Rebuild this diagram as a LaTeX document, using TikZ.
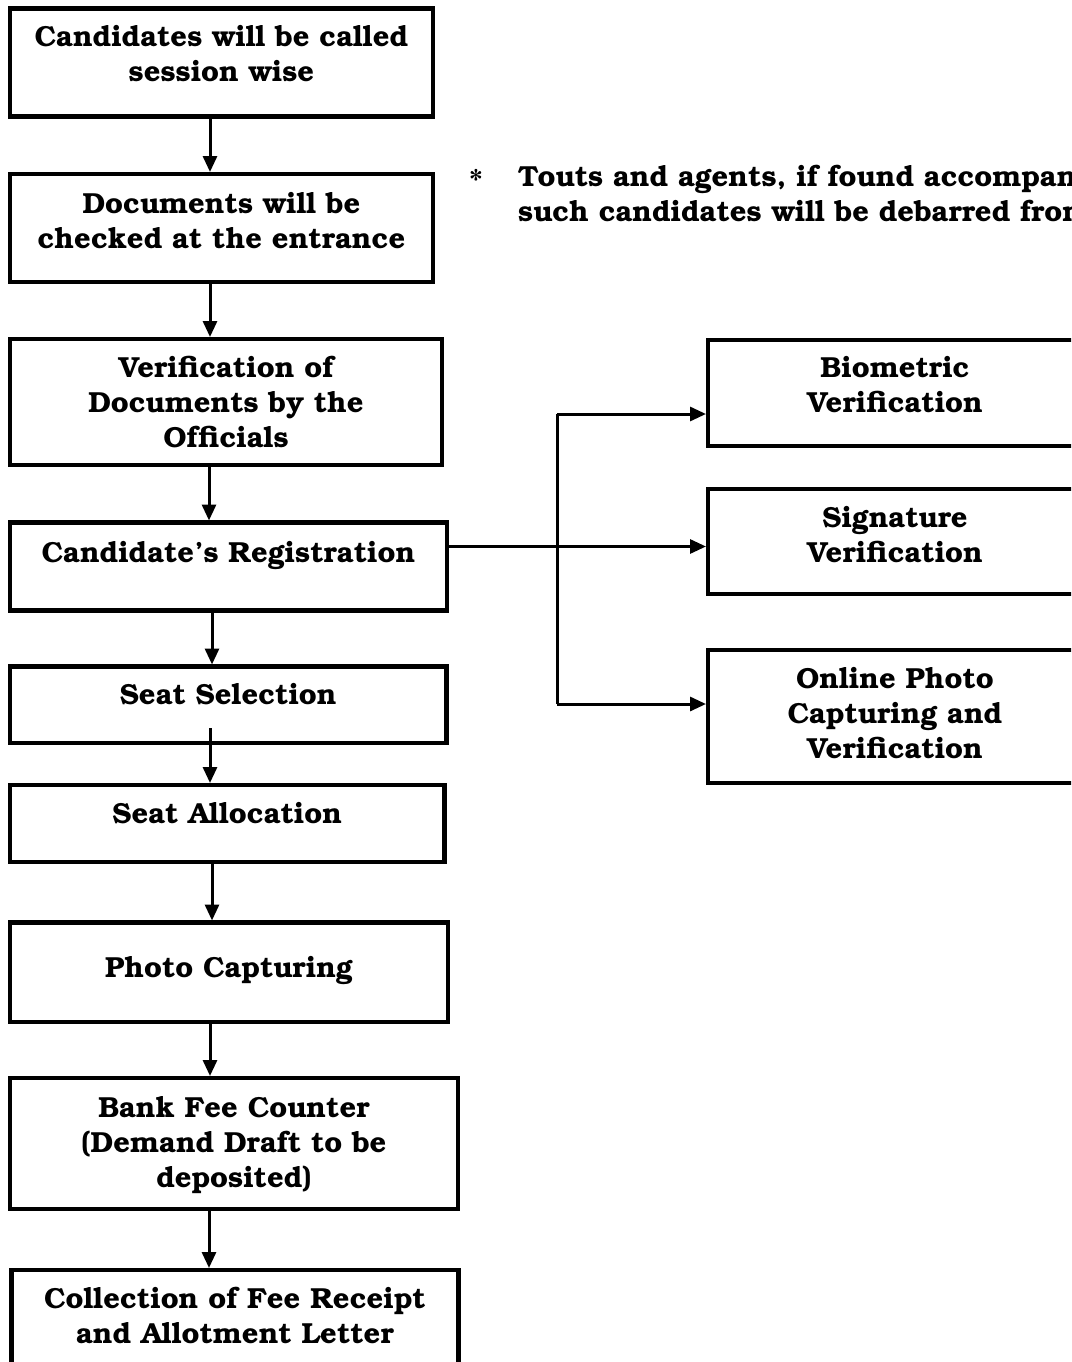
\documentclass[tikz,border=0pt]{standalone}
\usepackage[T1]{fontenc}
\usepackage{bookman}
\usetikzlibrary{arrows.meta}
\begin{document}
\begin{tikzpicture}[x=1pt,y=-1pt,
  box/.style={draw, line width=4.2pt, rectangle, inner sep=0pt, outer sep=0pt, anchor=north west},
  lbl/.style={inner sep=0pt, anchor=base, font=\bfseries\fontsize{29}{35}\selectfont},
  arr/.style={line width=3pt, -{Triangle[width=14pt,length=16pt]}, shorten >=2pt},
  ln/.style={line width=3pt}]
\useasboundingbox (0,0) rectangle (1071,1362);
\clip (0,0) rectangle (1071,1362);
\newcommand{\mybox}[5]{\node[box, minimum width={(#4-#2)*1pt}, minimum height={(#5-#3)*1pt}] (#1) at (#2,#3) {};}
\newcommand{\mytab}[1]{\begin{tabular}[t]{@{}c@{}}#1\end{tabular}}
% left column
\mybox{b1}{10}{8.5}{433}{116.5}
\mybox{b2}{10}{174}{433}{282}
\mybox{b3}{10}{339}{442}{465}
\mybox{b4}{10}{522.5}{447}{610.5}
\mybox{b5}{10}{666.5}{446.5}{743}
\mybox{b6}{10}{785}{444.5}{862}
\mybox{b7}{10}{922.5}{448}{1022}
\mybox{b8}{10}{1078}{458}{1209}
\mybox{b9}{11.5}{1270}{458.5}{1400}
% right column
\mybox{r1}{708}{340}{1082}{446}
\mybox{r2}{708}{489}{1082}{594}
\mybox{r3}{708}{650}{1082}{783}
% texts
\node[lbl] (t1) at (b1.north |- 0,47) {\mytab{Candidates will be called\\session wise}};
\node[lbl] (t2) at (b2.north |- 0,213) {\mytab{Documents will be\\checked at the entrance}};
\node[lbl] (t3) at (b3.north |- 0,377) {\mytab{Verification of\\Documents by the\\Officials}};
\node[lbl] (t4) at (b4.north |- 0,562) {Candidate's Registration};
\node[lbl] (t5) at (b5.north |- 0,704) {Seat Selection};
\node[lbl] (t6) at (b6.north |- 0,823) {Seat Allocation};
\node[lbl] (t7) at (b7.north |- 0,977) {Photo Capturing};
\node[lbl] (t8) at (b8.north |- 0,1117) {\mytab{Bank Fee Counter\\(Demand Draft to be\\deposited)}};
\node[lbl] (t9) at (b9.north |- 0,1308) {\mytab{Collection of Fee Receipt\\and Allotment Letter}};
\node[lbl] (u1) at (r1.north |- 0,377) {\mytab{Biometric\\Verification}};
\node[lbl] (u2) at (r2.north |- 0,527) {\mytab{Signature\\Verification}};
\node[lbl] (u3) at (r3.north |- 0,688) {\mytab{Online Photo\\Capturing and\\Verification}};
% note
\node[inner sep=0pt, anchor=center, font=\mdseries\fontsize{32}{36}\selectfont] (star) at (476,180) {*};
\node[lbl, anchor=base west] (note) at (518,186) {\begin{tabular}[t]{@{}l@{}}Touts and agents, if found accompanying\\such candidates will be debarred from\end{tabular}};
% vertical arrows
\draw[arr] (210,0 |- b1.south) -- (210,0 |- b2.north);
\draw[arr] (210,0 |- b2.south) -- (210,0 |- b3.north);
\draw[arr] (209,0 |- b3.south) -- (209,0 |- b4.north);
\draw[arr] (212,0 |- b4.south) -- (212,0 |- b5.north);
\coordinate (s5) at (210,728);
\draw[arr] (s5) -- (s5 |- b6.north);
\draw[arr] (212,0 |- b6.south) -- (212,0 |- b7.north);
\draw[arr] (210,0 |- b7.south) -- (210,0 |- b8.north);
\draw[arr] (209,0 |- b8.south) -- (209,0 |- b9.north);
% branch
\coordinate (j1) at (557,414);
\coordinate (j2) at (557,546.5);
\coordinate (j3) at (557,704);
\draw[ln] (j1) -- (j3);
\draw[arr] (j2 -| b4.east) -- (j2 -| r2.west);
\draw[arr] (j1) -- (j1 -| r1.west);
\draw[arr] (j3) -- (j3 -| r3.west);
\end{tikzpicture}
\end{document}
